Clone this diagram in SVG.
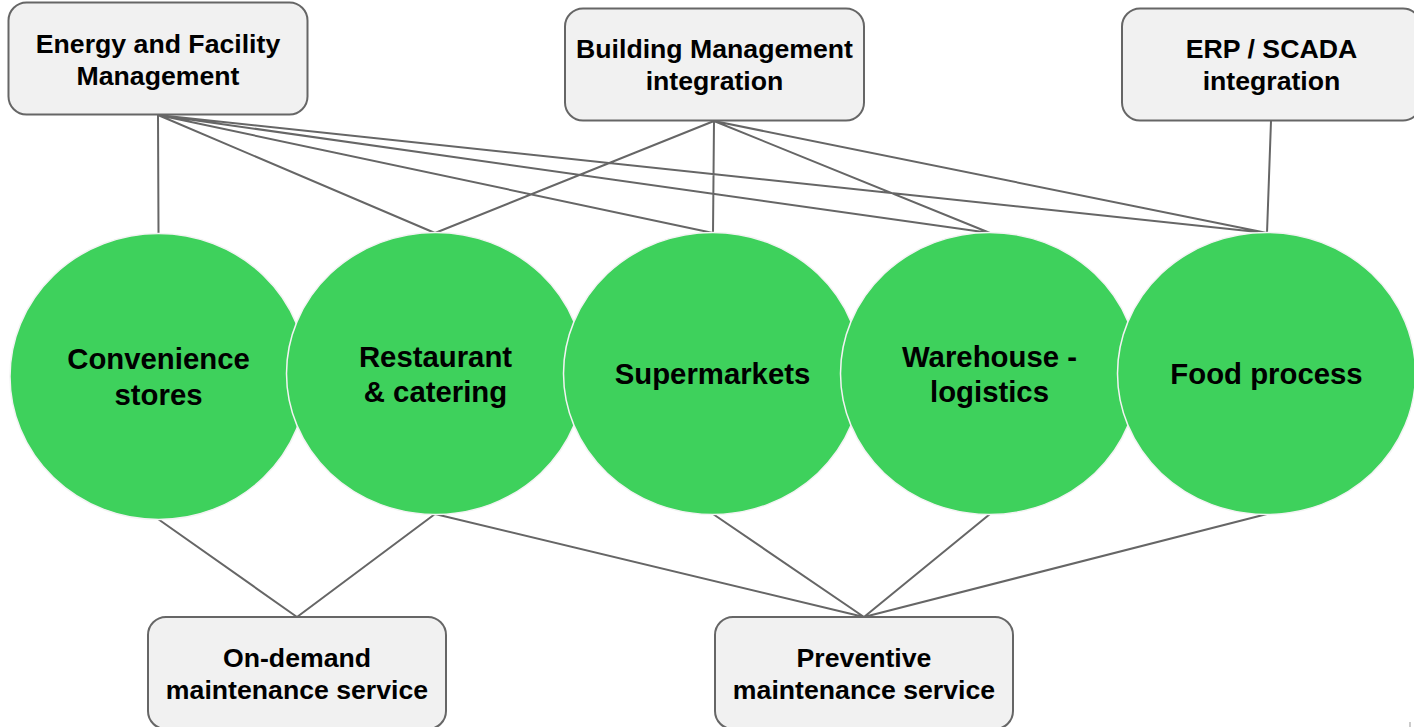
<svg xmlns="http://www.w3.org/2000/svg" width="1414" height="727" viewBox="0 0 1414 727">
<style>
.box{fill:#f1f1f1;stroke:#666;stroke-width:2}
.c{fill:#3ed15c;stroke:#f3f3f3;stroke-width:1.5}
.l{fill:none;stroke:#666;stroke-width:2}
text{font-family:"Liberation Sans",Arial,sans-serif;font-weight:bold;text-anchor:middle;fill:#000}
.s{font-size:26.670px}.b{font-size:29.330px}
</style>
<rect width="1414" height="727" fill="#fff"/>
<g id="connectors">
<path class="l" d="M158 115L158.500 233M158 115L435 233M158 115L713 233M158 115L990 233M158 115L1267 233M714 121L435 233M714 121L713 233M714 121L990 233M714 121L1267 233M1271 121L1267 233M158 519L297 617M435 514L297 617M435 514L864 617M713 514L864 617M990 514L864 617M1267 514L864 617"/>
<path d="M1410 722V727" fill="none" stroke="#999" stroke-width="1"/>
</g>
<g id="n1"><rect class="box" x="8.500" y="2.500" width="299" height="112" rx="18"/><text class="s" x="158" y="53">Energy and Facility</text><text class="s" x="158" y="85">Management</text></g>
<g id="n2"><rect class="box" x="565" y="8.500" width="299" height="112" rx="18"/><text class="s" x="714.500" y="58">Building Management</text><text class="s" x="714.500" y="90">integration</text></g>
<g id="n3"><rect class="box" x="1122" y="8.500" width="299" height="112" rx="18"/><text class="s" x="1271.500" y="58">ERP / SCADA</text><text class="s" x="1271.500" y="90">integration</text></g>
<g id="c1"><ellipse class="c" cx="158.500" cy="376.500" rx="148.500" ry="143"/><text class="b" x="158.500" y="369">Convenience</text><text class="b" x="158.500" y="405">stores</text></g>
<g id="c2"><ellipse class="c" cx="435.500" cy="373.500" rx="149" ry="141"/><text class="b" x="435.500" y="367">Restaurant</text><text class="b" x="435.500" y="402">&amp; catering</text></g>
<g id="c3"><ellipse class="c" cx="712.500" cy="373.500" rx="149" ry="141"/><text class="b" x="712.500" y="384">Supermarkets</text></g>
<g id="c4"><ellipse class="c" cx="989.500" cy="373.500" rx="149" ry="141"/><text class="b" x="989.500" y="367">Warehouse -</text><text class="b" x="989.500" y="402">logistics</text></g>
<g id="c5"><ellipse class="c" cx="1266.500" cy="373.500" rx="149" ry="141"/><text class="b" x="1266.500" y="384">Food process</text></g>
<g id="n4"><rect class="box" x="148" y="617" width="298" height="112" rx="18"/><text class="s" x="297" y="667">On-demand</text><text class="s" x="297" y="699">maintenance service</text></g>
<g id="n5"><rect class="box" x="715" y="617" width="298" height="112" rx="18"/><text class="s" x="864" y="667">Preventive</text><text class="s" x="864" y="699">maintenance service</text></g>
</svg>
